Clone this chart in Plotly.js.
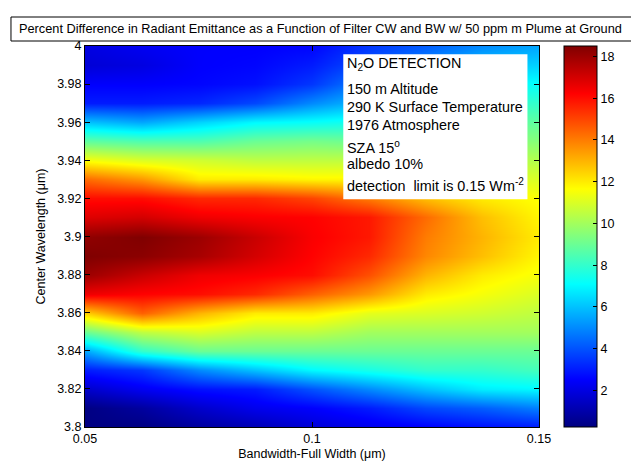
<!DOCTYPE html>
<html>
<head>
<meta charset="utf-8">
<script src="https://cdn.plot.ly/plotly-3.0.1.min.js"></script>
<style>html,body{margin:0;padding:0;background:#fff;}#chart{width:631px;height:469px;}</style>
</head>
<body>
<div id="chart"></div>
<script>
// Bandwidth (full width, µm) columns
const bandwidth = [0.05, 0.0625, 0.075, 0.0875, 0.1, 0.1125, 0.125, 0.1375, 0.15];
// Center wavelength (µm) rows, top to bottom
const wavelength = [4.00, 3.99, 3.98, 3.97, 3.96, 3.95, 3.94, 3.93, 3.92, 3.91, 3.90,
                    3.89, 3.88, 3.87, 3.86, 3.85, 3.84, 3.83, 3.82, 3.81, 3.80];
// Percent difference per bandwidth column (values listed for wavelength 4.00 -> 3.80)
const bw050  = [2.0,1.8,2.5,3.0,6.0,8.8,11.5,14.3,16.0,16.8,18.2,18.5,18.0,16.5,12.5,9.0,5.5,3.0,1.6,0.3,0.3];
const bw0625 = [2.3,2.0,2.5,3.0,5.5,8.5,11.0,13.5,16.0,17.0,18.5,18.3,17.2,16.2,14.5,10.5,8.0,3.5,2.3,0.8,0.3];
const bw075  = [2.5,2.5,2.6,3.2,6.3,8.5,10.8,12.0,15.5,16.5,18.0,17.8,16.5,16.0,13.0,11.0,9.0,5.0,2.8,1.6,0.8];
const bw0875 = [2.5,2.6,2.8,3.8,7.0,9.0,10.5,12.0,15.5,16.3,17.2,17.0,16.3,15.5,12.0,10.5,9.0,6.0,3.0,2.2,1.2];
const bw100  = [2.6,3.0,3.5,5.0,7.2,9.2,10.5,11.8,15.0,16.2,16.3,16.2,16.0,14.5,12.0,10.5,9.0,7.0,4.0,2.5,1.8];
const bw1125 = [3.5,4.0,5.0,6.0,7.5,9.0,10.5,11.8,14.0,15.8,15.8,15.5,14.8,13.5,11.2,10.0,9.0,7.5,5.0,3.0,2.2];
const bw125  = [4.2,5.0,6.0,7.0,8.2,9.3,10.3,11.3,12.8,14.3,14.0,13.8,13.0,12.0,11.0,10.0,9.0,8.0,6.0,3.8,2.5];
const bw1375 = [5.0,6.0,7.0,8.0,8.8,9.5,10.3,11.0,12.0,12.8,13.0,12.8,12.0,11.5,10.8,10.0,9.0,8.0,6.8,4.2,2.8];
const bw150  = [5.5,6.3,7.2,8.0,8.8,9.5,10.3,11.0,11.6,11.8,12.0,11.8,11.5,11.0,10.5,10.0,9.0,8.3,7.0,4.8,3.0];
const columns = [bw050, bw0625, bw075, bw0875, bw100, bw1125, bw125, bw1375, bw150];

const yTickVals = [3.8,3.82,3.84,3.86,3.88,3.9,3.92,3.94,3.96,3.98,4.0];
const yTickText = ['3.8','3.82','3.84','3.86','3.88','3.9','3.92','3.94','3.96','3.98','4'];
const xTickVals = [0.05, 0.1, 0.15];
const xTickText = ['0.05','0.1','0.15'];
const cbTickVals = [2,4,6,8,10,12,14,16,18];

const z = wavelength.map((w, i) => columns.map(col => col[i]));

const jet = [
  [0, 'rgb(0,0,128)'],
  [0.125, 'rgb(0,0,255)'],
  [0.375, 'rgb(0,255,255)'],
  [0.625, 'rgb(255,255,0)'],
  [0.875, 'rgb(255,0,0)'],
  [1, 'rgb(128,0,0)']
];

const FONT = 'Arial, "Liberation Sans", sans-serif';

const trace = {
  type: 'heatmap',
  x: bandwidth,
  y: wavelength,
  z: z,
  zsmooth: 'best',
  zmin: 0.25,
  zmax: 18.5,
  colorscale: jet,
  showscale: true,
  colorbar: {
    x: (570 - 85) / 460,
    xanchor: 'left',
    xpad: 0,
    ypad: 0,
    y: 0.5,
    yanchor: 'middle',
    len: 1,
    lenmode: 'fraction',
    thickness: 33,
    thicknessmode: 'pixels',
    outlinewidth: 1,
    outlinecolor: '#000',
    tickmode: 'array',
    tickvals: cbTickVals,
    ticktext: cbTickVals.map(String),
    ticks: 'inside',
    ticklen: 4,
    tickcolor: '#000',
    tickfont: {family: FONT, size: 12.5, color: '#000'}
  },
  hoverinfo: 'skip'
};

const lines = [
  {t: 'N<sub>2</sub>O DETECTION', y: 64.3},
  {t: '150 m Altitude', y: 88.7},
  {t: '290 K Surface Temperature', y: 106.7},
  {t: '1976 Atmosphere', y: 124.7},
  {t: 'SZA 15<sup>o</sup>', y: 147},
  {t: 'albedo 10%', y: 164.3},
  {t: 'detection  limit is 0.15 Wm<sup>-2</sup>', y: 185.3}
];
const px = v => (v - 85) / 460;
const py = v => (427 - v) / 381;

const annotations = lines.map(l => ({
  xref: 'paper', yref: 'paper',
  x: px(348), y: py(l.y),
  xanchor: 'left', yanchor: 'middle',
  text: l.t, showarrow: false,
  font: {family: FONT, size: 14.4, color: '#000'}
}));
annotations.push({
  xref: 'paper', yref: 'paper',
  x: px(16), y: py(29),
  xanchor: 'left', yanchor: 'middle',
  text: 'Percent Difference in Radiant Emittance as a Function of Filter CW and BW w/ 50 ppm m Plume at Ground',
  showarrow: false,
  font: {family: FONT, size: 12.75, color: '#000'}
});

const layout = {
  width: 631, height: 469,
  margin: {l: 85, r: 86, t: 46, b: 42, pad: 0},
  paper_bgcolor: '#fff',
  plot_bgcolor: '#fff',
  font: {family: FONT, size: 12, color: '#000'},
  xaxis: {
    range: [0.05, 0.15],
    tickmode: 'array', tickvals: xTickVals, ticktext: xTickText,
    ticks: 'inside', ticklen: 5, tickcolor: '#000',
    showline: true, linecolor: '#000', linewidth: 1, mirror: 'ticks',
    showgrid: false, zeroline: false,
    tickfont: {family: FONT, size: 12.5, color: '#000'},
    title: {text: 'Bandwidth-Full Width (\u03bcm)', font: {family: FONT, size: 12.5, color: '#000'}, standoff: 4}
  },
  yaxis: {
    range: [3.8, 4.0],
    tickmode: 'array', tickvals: yTickVals, ticktext: yTickText,
    ticks: 'inside', ticklen: 5, tickcolor: '#000',
    showline: true, linecolor: '#000', linewidth: 1, mirror: 'ticks',
    showgrid: false, zeroline: false,
    tickfont: {family: FONT, size: 12.5, color: '#000'},
    title: {text: 'Center Wavelength (\u03bcm)', font: {family: FONT, size: 12.5, color: '#000'}, standoff: 8}
  },
  shapes: [
    {type: 'rect', xref: 'paper', yref: 'paper',
     x0: px(10), x1: px(660), y0: py(41), y1: py(17),
     line: {color: '#000', width: 1}, fillcolor: 'rgba(0,0,0,0)', layer: 'above'},
    {type: 'rect', xref: 'paper', yref: 'paper',
     x0: px(346.7), x1: px(533.3), y0: py(199.3), y1: py(54.3),
     line: {width: 0}, fillcolor: '#fff', layer: 'above'}
  ],
  annotations: annotations
};

Plotly.newPlot('chart', [trace], layout, {displayModeBar: false, staticPlot: true});
</script>
</body>
</html>
